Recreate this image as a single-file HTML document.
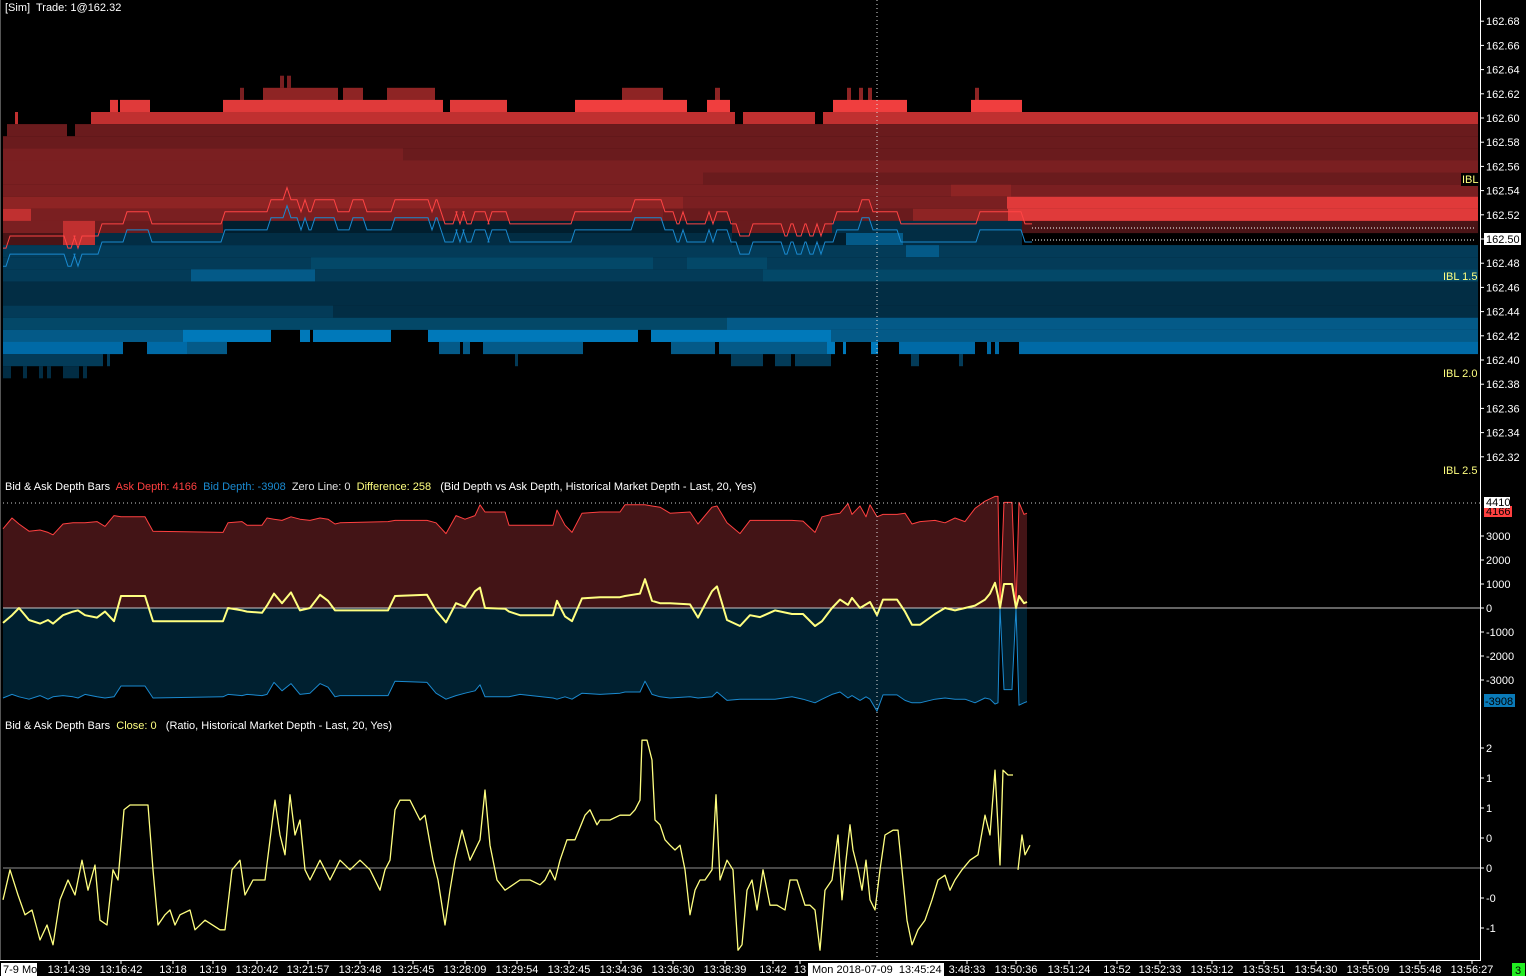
<!DOCTYPE html>
<html><head><meta charset="utf-8">
<style>
html,body{margin:0;padding:0;background:#000;width:1526px;height:976px;overflow:hidden}
svg{display:block}
text{font-family:"Liberation Sans",sans-serif;font-size:11px;white-space:pre}
</style></head>
<body>
<svg id="chart" width="1526" height="976" viewBox="0 0 1526 976" xmlns="http://www.w3.org/2000/svg">
<rect width="1526" height="976" fill="#000"/>
<g id="heat"></g>
<g id="bbo"></g>
<g id="mid"></g>
<g id="bot"></g>
<g id="axes"></g>
<text x="5" y="11" fill="#fff">[Sim]  Trade: 1@162.32</text>
<text x="5" y="490" fill="#fff">Bid &amp; Ask Depth Bars  <tspan fill="#ff4040">Ask Depth: 4166</tspan>  <tspan fill="#1a8ad0">Bid Depth: -3908</tspan>  <tspan fill="#e0e0e0">Zero Line: 0</tspan>  <tspan fill="#ffff80">Difference: 258</tspan>   (Bid Depth vs Ask Depth, Historical Market Depth - Last, 20, Yes)</text>
<text x="5" y="729" fill="#fff">Bid &amp; Ask Depth Bars  <tspan fill="#ffff80">Close: 0</tspan>   (Ratio, Historical Market Depth - Last, 20, Yes)</text>
</svg>
<script>
// ---------- data ----------
const askRows = [
 [162.63, [[277,281,3],[284,288,3]]],
 [162.62, [[237,241,3],[260,335,4],[340,360,4],[384,432,4],[619,660,4],[712,717,4],[844,848,4],[856,860,4],[865,869,4],[972,976,4]]],
 [162.61, [[107,115,6],[117,147,6],[220,440,6],[447,504,6],[572,684,7],[704,727,7],[830,904,7],[968,1019,7]]],
 [162.60, [[12,15,5],[88,732,5],[740,812,5],[820,1475,5]]],
 [162.59, [[4,64,2],[72,1475,2]]],
 [162.58, [[0,1475,2]]],
 [162.57, [[0,400,3],[400,1475,2]]],
 [162.56, [[0,1475,3]]],
 [162.55, [[0,700,3],[700,1475,2]]],
 [162.54, [[0,700,3],[700,948,3],[948,1008,4],[1008,1475,3]]],
 [162.53, [[0,680,4],[680,1004,3],[1004,1475,6]]],
 [162.52, [[0,28,5],[28,660,3],[660,910,2],[910,1005,4],[1005,1475,6]]],
 [162.51, [[0,60,3],[60,92,5],[92,220,2],[729,829,2],[1019,1475,1]]],
 [162.50, [[0,60,1],[60,92,5]]]
];
const bidRows = [
 [162.51, [[220,729,1],[829,1019,2]]],
 [162.50, [[92,729,2],[729,843,1],[843,900,5],[900,1019,2]]],
 [162.49, [[0,903,3],[903,936,5],[936,1475,3]]],
 [162.48, [[0,308,3],[308,500,4],[500,650,4],[650,684,3],[684,764,4],[764,1475,3]]],
 [162.47, [[0,188,3],[188,312,5],[312,760,3],[760,1475,4]]],
 [162.46, [[0,1475,2]]],
 [162.45, [[0,1475,2]]],
 [162.44, [[0,330,3],[330,1475,2]]],
 [162.43, [[0,724,4],[724,1475,5]]],
 [162.42, [[0,180,5],[180,268,7],[297,307,7],[310,388,7],[425,635,7],[648,828,7],[828,1475,5]]],
 [162.41, [[0,120,6],[144,184,6],[184,224,5],[436,457,5],[460,467,5],[480,580,5],[668,712,5],[716,824,5],[824,832,7],[840,843,7],[868,875,7],[896,972,6],[984,988,6],[992,996,6],[1016,1475,6]]],
 [162.40, [[0,100,3],[104,107,3],[512,515,3],[728,760,3],[772,788,3],[792,828,3],[908,916,3],[956,960,3]]],
 [162.39, [[0,8,2],[20,24,2],[36,40,2],[44,48,2],[60,76,2],[80,84,2]]]
];
const stepT = [0,5,63,70,73,77,97,122,147,220,266,282,286,296,300,304,310,333,348,362,390,427,431,436,440,452,455,459,462,470,484,487,505,570,630,660,672,678,682,704,708,712,726,735,748,780,786,792,800,805,812,816,820,832,857,868,896,975,1020,1027];
const askP  = [162.49,162.50,162.49,162.50,162.49,162.50,162.51,162.52,162.51,162.52,162.53,162.54,162.53,162.52,162.53,162.52,162.53,162.52,162.53,162.52,162.53,162.52,162.53,162.52,162.51,162.52,162.51,162.52,162.51,162.52,162.51,162.52,162.51,162.52,162.53,162.52,162.51,162.52,162.51,162.52,162.51,162.52,162.51,162.50,162.51,162.50,162.51,162.50,162.51,162.50,162.51,162.50,162.51,162.52,162.53,162.52,162.51,162.52,162.51,162.51];
const bidP  = [162.48,162.49,162.48,162.49,162.48,162.49,162.50,162.51,162.50,162.51,162.52,162.53,162.52,162.51,162.52,162.51,162.52,162.51,162.52,162.51,162.52,162.51,162.52,162.51,162.50,162.51,162.50,162.51,162.50,162.51,162.50,162.51,162.50,162.51,162.52,162.51,162.50,162.51,162.50,162.51,162.50,162.51,162.50,162.49,162.50,162.49,162.50,162.49,162.50,162.49,162.50,162.49,162.50,162.51,162.52,162.51,162.50,162.51,162.50,162.50];
const priceTicks = ["162.68","162.66","162.64","162.62","162.60","162.58","162.56","162.54","162.52","162.50","162.48","162.46","162.44","162.42","162.40","162.38","162.36","162.34","162.32"];

const midT  = [0,9,16,26,37,45,50,60,70,75,82,94,102,111,118,142,150,220,225,239,244,259,264,271,279,288,297,307,317,325,332,337,385,392,424,433,443,453,462,472,477,482,502,506,517,550,554,562,569,579,597,617,622,637,642,649,657,667,687,695,709,714,724,737,747,757,772,789,800,812,819,829,837,845,849,857,863,867,874,880,894,902,909,917,932,942,952,962,972,982,987,992,995,997,1001,1009,1013,1016,1021,1024];
const askD  = [3300,3750,3500,3200,3250,3150,3050,3500,3550,3550,3550,3600,3400,3850,3800,3800,3200,3150,3550,3600,3450,3450,3750,3700,3650,3800,3700,3650,3750,3700,3500,3550,3600,3650,3650,3550,3100,3850,3700,3850,4300,4000,4000,3450,3450,3450,4080,3450,3150,3950,4000,4000,4300,4300,4300,4250,4200,3950,4000,3500,4200,4250,3550,3100,3650,3650,3650,3650,3620,3150,3800,3900,3950,4350,3900,4250,3800,4300,3800,3900,3900,3950,3500,3600,3650,3550,3750,3600,4150,4450,4550,4650,4650,0,4400,4400,0,4400,3900,3950];
const bidD  = [-3750,-3600,-3700,-3800,-3650,-3800,-3700,-3650,-3700,-3750,-3600,-3700,-3750,-3700,-3250,-3250,-3750,-3700,-3600,-3650,-3600,-3650,-3600,-3100,-3450,-3150,-3600,-3550,-3150,-3300,-3700,-3650,-3650,-3050,-3100,-3550,-3800,-3650,-3550,-3450,-3200,-3700,-3700,-3700,-3600,-3750,-3800,-3700,-3800,-3550,-3600,-3550,-3500,-3500,-3050,-3600,-3700,-3750,-3700,-3750,-3700,-3500,-3850,-3800,-3800,-3800,-3800,-3700,-3800,-3950,-3800,-3600,-3500,-3750,-3650,-3850,-3700,-3800,-4300,-3620,-3620,-3850,-3950,-3950,-3800,-3750,-3800,-3800,-3950,-3750,-3800,-4000,-3950,0,-3400,-3400,0,-4050,-3950,-3900];
const diffD = [-620,-300,0,-500,-650,-500,-650,-300,-150,-100,-300,-400,-150,-550,500,500,-550,-550,0,-100,-150,-200,100,600,200,650,-100,0,550,300,-100,-100,-100,500,550,-100,-600,200,50,700,850,0,-30,-150,-300,-300,300,-350,-550,400,450,450,500,600,1200,300,200,200,150,-400,700,900,-500,-750,-300,-380,-100,-250,-250,-750,-550,0,350,130,420,0,150,250,-300,350,350,-150,-700,-700,-250,0,-100,0,100,350,600,1050,500,0,1000,1000,0,500,200,250];
const midTicks = [3000,2000,1000,0,-1000,-2000,-3000];

const ratT = [0,7,15,22,29,37,44,50,57,65,72,79,85,92,97,104,110,115,121,127,137,145,150,155,162,167,172,177,187,192,202,217,222,229,237,242,250,262,267,272,277,282,287,292,297,302,307,317,322,327,337,347,357,367,377,382,387,392,397,407,417,422,430,435,442,447,452,459,467,477,482,487,494,502,517,527,537,542,547,552,557,564,572,582,587,594,597,607,617,627,632,637,639,644,649,652,657,662,667,672,677,682,687,692,697,702,709,713,717,724,730,735,739,744,749,754,760,767,774,782,787,794,802,807,812,817,822,829,835,839,843,847,850,855,859,863,867,872,877,882,890,895,899,904,909,915,922,929,935,942,947,952,959,967,975,982,987,992,997,1000,1005,1010];
const ratV = [-0.53,-0.03,-0.45,-0.78,-0.7,-1.2,-0.95,-1.28,-0.53,-0.2,-0.45,0.13,-0.37,0.05,-0.87,-0.95,-0.03,-0.2,0.97,1.05,1.05,1.05,-0.03,-0.95,-0.78,-0.7,-0.95,-0.78,-0.7,-1.03,-0.87,-1.03,-1.03,-0.03,0.13,-0.45,-0.2,-0.2,0.47,1.13,0.55,0.22,1.22,0.55,0.8,-0.03,-0.2,0.13,-0.03,-0.2,0.13,-0.03,0.13,-0.03,-0.37,-0.03,0.13,0.97,1.13,1.13,0.8,0.88,0.13,-0.2,-0.95,-0.37,0.13,0.63,0.13,0.47,1.3,0.38,-0.2,-0.37,-0.2,-0.2,-0.28,-0.2,-0.03,-0.2,0.13,0.47,0.47,0.88,0.97,0.72,0.8,0.8,0.88,0.88,0.97,1.13,2.13,2.13,1.8,0.8,0.72,0.47,0.38,0.3,0.38,-0.03,-0.78,-0.37,-0.2,-0.2,-0.03,1.22,-0.2,0.13,-0.03,-1.37,-1.28,-0.37,-0.2,-0.7,-0.03,-0.62,-0.62,-0.7,-0.2,-0.2,-0.62,-0.62,-0.7,-1.37,-0.37,-0.2,0.55,-0.53,0.13,0.72,0.3,-0.03,-0.37,0.13,-0.53,-0.7,-0.03,0.55,0.63,0.63,-0.03,-0.87,-1.28,-1.03,-0.87,-0.53,-0.2,-0.12,-0.37,-0.2,-0.03,0.13,0.22,0.88,0.55,1.63,0.05,1.63,1.55,1.55];
const ratT2 = [1015,1019,1022,1027];
const ratV2 = [-0.03,0.55,0.22,0.38];
const ratTicks = ["2","1","1","0","0","-0","-1"];
const ratTickVals = [2,1.5,1,0.5,0,-0.5,-1];
const timeLabels = ["13:14:39","13:16:42","13:18","13:19","13:20:42","13:21:57","13:23:48","13:25:45","13:28:09","13:29:54","13:32:45","13:34:36","13:36:30","13:38:39","13:42","13","3:48:33","13:50:36","13:51:24","13:52","13:52:33","13:53:12","13:53:51","13:54:30","13:55:09","13:55:48","13:56:27"];
const timeX = [69,121,173,213,257,308,360,413,465,517,569,621,673,725,773,800,967,1016,1069,1117,1160,1212,1264,1316,1368,1420,1472];

// ---------- scales ----------
const NS="http://www.w3.org/2000/svg";
const xT = t => 3 + t;
const yP = p => 118 + (162.60 - p) * 1210;
const yM = v => 608 - v * 0.024;
const yR = v => 868 - v * 60;
const askCol = ["#3a1012","#4a1416","#6a1b1d","#7a1f21","#8e2424","#c03030","#e03a3a","#f03e3e"];
const bidCol = ["#011520","#011e2e","#022d44","#033b58","#034868","#045a88","#006aa6","#0079ba"];
function el(tag, attrs, parent){ const e=document.createElementNS(NS,tag); for(const k in attrs) e.setAttribute(k,attrs[k]); parent.appendChild(e); return e; }

// ---------- heatmap ----------
const heat=document.getElementById('heat');
askRows.forEach(([p,segs])=>segs.forEach(([a,b,l])=>{
  const r=el('rect',{x:xT(a),y:yP(p)-6,width:b-a,height:12.2,fill:askCol[l]},heat);
  
  
}));
bidRows.forEach(([p,segs])=>segs.forEach(([a,b,l])=>{
  const r=el('rect',{x:xT(a),y:yP(p)-6,width:b-a,height:12.2,fill:bidCol[l]},heat);
  
  
}));
function stepPath(arr){ let d=''; for(let i=0;i<stepT.length;i++){ const x=xT(stepT[i]), y=yP(arr[i])+ (arr===askP?-3:3); if(i===0) d+='M'+x+' '+y; else { d+=' L'+(x-2)+' '+(yP(arr[i-1])+(arr===askP?-3:3))+' L'+(x+2)+' '+y; } } return d; }
const bbo=document.getElementById('bbo');
const al=el('path',{d:stepPath(askP),fill:'none',stroke:'#ff4444','stroke-width':1},bbo);


const bl=el('path',{d:stepPath(bidP),fill:'none',stroke:'#1a8ad0','stroke-width':1},bbo);


const d1=el('line',{x1:1032,x2:1475,y1:228,y2:228,stroke:'#fff','stroke-dasharray':'1 2'},bbo);


const d2=el('line',{x1:1032,x2:1475,y1:240,y2:240,stroke:'#fff','stroke-dasharray':'1 2'},bbo);



// ---------- middle panel ----------
const mid=document.getElementById('mid');
function area(vals,fill,name){ let d='M'+xT(midT[0])+' '+yM(0); midT.forEach((t,i)=>d+=' L'+xT(t)+' '+yM(vals[i])); d+=' L'+xT(midT[midT.length-1])+' '+yM(0)+' Z'; const p=el('path',{d:d,fill:fill},mid);   }
function line(g,ts,vals,ys,stroke,w,name){ let d=''; ts.forEach((t,i)=>d+=(i?' L':'M')+xT(t)+' '+ys(vals[i])); const p=el('path',{d:d,fill:'none',stroke:stroke,'stroke-width':w,'stroke-linejoin':'round'},g);   }
area(askD,'#431416','ask-depth-area');
area(bidD,'#002030','bid-depth-area');
const z=el('line',{x1:3,x2:1480,y1:yM(0),y2:yM(0),stroke:'#c8c8c8'},mid);


line(mid,midT,askD,yM,'#ff4040',1,'ask-depth-line');
line(mid,midT,bidD,yM,'#1a8ad0',1,'bid-depth-line');
line(mid,midT,diffD,yM,'#ffff80',2,'difference-line');
const hd=el('line',{x1:3,x2:1480,y1:503,y2:503,stroke:'#ccc','stroke-dasharray':'1 3'},mid);



// ---------- bottom panel ----------
const bot=document.getElementById('bot');
const z2=el('line',{x1:3,x2:1480,y1:yR(0),y2:yR(0),stroke:'#909090'},bot);


line(bot,ratT,ratV,yR,'#ffff80',1.3,'ratio-line');
line(bot,ratT2,ratV2,yR,'#ffff80',1.3,'ratio-line-tail');

// ---------- axes ----------
const ax=document.getElementById('axes');
const vc=el('line',{x1:877,x2:877,y1:0,y2:960,stroke:'#ddd','stroke-dasharray':'1 3'},ax);


el('line',{x1:1480.5,x2:1480.5,y1:0,y2:960,stroke:'#fff'},ax);
el('line',{x1:0,x2:1481,y1:960.5,y2:960.5,stroke:'#fff'},ax);
el('line',{x1:0.5,x2:0.5,y1:0,y2:960,stroke:'#555'},ax);
priceTicks.forEach(s=>{ const y=yP(parseFloat(s));
  el('line',{x1:1480,x2:1484,y1:y,y2:y,stroke:'#fff'},ax);
  if(s==="162.50"){ el('rect',{x:1484,y:y-6,width:37,height:12,fill:'#fff'},ax); }
  const t=el('text',{x:1486,y:y+4,fill:s==="162.50"?'#000':'#fff'},ax); t.textContent=s;
  
  
});
midTicks.forEach(v=>{ const y=yM(v);
  el('line',{x1:1480,x2:1484,y1:y,y2:y,stroke:'#fff'},ax);
  const t=el('text',{x:1486,y:y+4,fill:'#fff'},ax); t.textContent=String(v);
  
  
});
ratTicks.forEach((s,i)=>{ const y=yR(ratTickVals[i]);
  el('line',{x1:1480,x2:1484,y1:y,y2:y,stroke:'#fff'},ax);
  const t=el('text',{x:1486,y:y+4,fill:'#fff'},ax); t.textContent=s;
  
  
});
el('rect',{x:1484,y:506,width:28,height:11,fill:'#ff4040'},ax);
el('text',{x:1486,y:515,fill:'#000'},ax).textContent='4166';
el('rect',{x:1484,y:497,width:26,height:11,fill:'#fff'},ax);
el('text',{x:1486,y:506,fill:'#000'},ax).textContent='4410';
el('rect',{x:1484,y:694,width:31,height:13,fill:'#0a7ab8'},ax);
el('text',{x:1485,y:705,fill:'#000'},ax).textContent='-3908';
[["IBL",1462,183],["IBL 1.5",1443,280],["IBL 2.0",1443,377],["IBL 2.5",1443,474]].forEach(([s,x,y])=>{
  if(s==="IBL") el('rect',{x:1461,y:y-10,width:17,height:13,fill:'#000'},ax);
  const t=el('text',{x:x,y:y,fill:'#ffff80'},ax); t.textContent=s;
  
  
});
timeLabels.forEach((s,i)=>{ const x=timeX[i];
  el('line',{x1:x,x2:x,y1:960,y2:964,stroke:'#fff'},ax);
  const t=el('text',{x:x,y:973,fill:'#fff','text-anchor':'middle'},ax); t.textContent=s;
  
  
});
el('rect',{x:1,y:963,width:36,height:13,fill:'#fff'},ax);
el('text',{x:3,y:973,fill:'#000'},ax).textContent='7-9 Mo';
el('rect',{x:808,y:963,width:136,height:13,fill:'#fff'},ax);
const cl=el('text',{x:812,y:973,fill:'#000'},ax); cl.textContent='Mon 2018-07-09  13:45:24';


el('rect',{x:1512,y:963,width:13,height:13,fill:'#22ee22'},ax);
el('text',{x:1515,y:974,fill:'#000'},ax).textContent='3';
</script>
</body></html>
